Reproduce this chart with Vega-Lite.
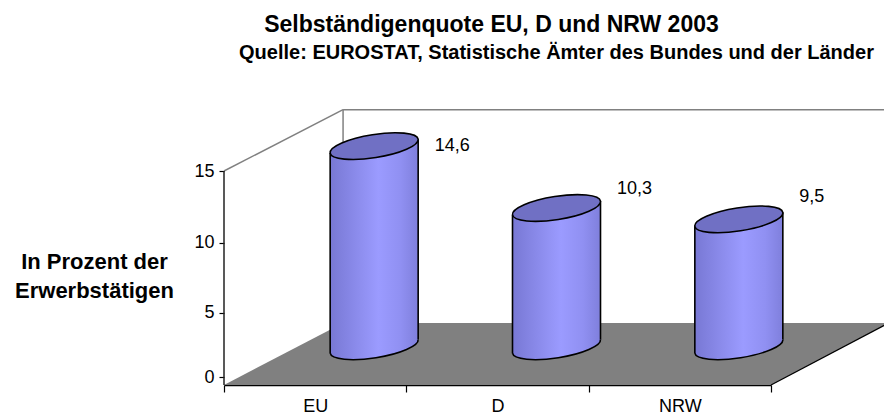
{
  "$schema": "https://vega.github.io/schema/vega-lite/v6.json",
  "width": 660,
  "height": 285,
  "autosize": {"type": "none"},
  "padding": {"left": 224, "top": 100, "right": 0, "bottom": 34},
  "background": "white",
  "config": {
    "view": {"stroke": null},
    "font": "Liberation Sans",
    "locale": {"number": {"decimal": ",", "thousands": ".", "grouping": [3], "currency": ["", " €"]}}
  },
  "datasets": {
    "main": [
      {"cat": "EU", "value": 14.6},
      {"cat": "D", "value": 10.3},
      {"cat": "NRW", "value": 9.5}
    ],
    "floor": [
      {"x": 0, "y": -0.701, "y2": -0.701},
      {"x": 0.653, "y": 4.246, "y2": -0.701},
      {"x": 3, "y": 4.246, "y2": -0.701},
      {"x": 3.647, "y": 4.246, "y2": 4.246}
    ],
    "walls": [
      {"x": 0, "y": 15, "x2": 0.653, "y2": 19.18},
      {"x": 0.653, "y": 19.18, "x2": 3.7, "y2": 19.18},
      {"x": 0.653, "y": 19.18, "x2": 0.653, "y2": 4.246}
    ],
    "edges": [
      {"x": 3, "y": -0.701, "x2": 3.647, "y2": 4.246}
    ]
  },
  "layer": [
    {
      "layer": [
        {
          "data": {"name": "floor"},
          "mark": {"type": "area", "color": "#808080", "opacity": 1},
          "encoding": {
            "x": {"field": "x", "type": "quantitative",
              "scale": {"domain": [0, 3], "range": [0, 547], "nice": false, "zero": false},
              "axis": {"orient": "top", "domain": false, "ticks": false, "labels": false, "grid": false,
                "title": "Selbständigenquote EU, D und NRW 2003", "titleFontSize": 23, "titleFontWeight": "bold",
                "titleColor": "black", "titleFont": "Liberation Sans", "titleX": 267, "titleY": -69,
                "titleAlign": "center", "titleBaseline": "alphabetic", "titleAngle": 0}},
            "y": {"field": "y", "type": "quantitative", "stack": null,
              "scale": {"type": "pow", "exponent": 1.06, "domain": [0, 15], "range": [277, 71], "nice": false, "zero": false},
              "axis": null},
            "y2": {"field": "y2"}
          }
        },
        {
          "data": {"name": "walls"},
          "mark": {"type": "rule", "color": "#808080", "strokeWidth": 1.5},
          "encoding": {
            "x": {"field": "x", "type": "quantitative"},
            "y": {"field": "y", "type": "quantitative"},
            "x2": {"field": "x2"},
            "y2": {"field": "y2"}
          }
        },
        {
          "data": {"name": "edges"},
          "mark": {"type": "rule", "color": "black", "strokeWidth": 1.3},
          "encoding": {
            "x": {"field": "x", "type": "quantitative"},
            "y": {"field": "y", "type": "quantitative"},
            "x2": {"field": "x2"},
            "y2": {"field": "y2"}
          }
        },
        {
          "data": {"values": [{"lo": -0.701, "hi": 15}]},
          "mark": {"type": "rule", "color": "#222222", "strokeWidth": 1.5},
          "encoding": {
            "x": {"datum": 0, "type": "quantitative"},
            "y": {"field": "lo", "type": "quantitative"},
            "y2": {"field": "hi"}
          }
        }
      ]
    },
    {
      "data": {"name": "main"},
      "encoding": {
        "x": {"field": "cat", "type": "nominal", "sort": null,
          "scale": {"domain": ["EU", "D", "NRW"], "range": [0, 547], "paddingInner": 0, "paddingOuter": 0},
          "axis": {"orient": "bottom", "tickBand": "extent", "domainColor": "black", "domainWidth": 1.3,
            "tickColor": "black", "tickSize": 7, "tickWidth": 1.2, "labelFontSize": 18, "labelColor": "black",
            "labelFont": "Liberation Sans", "labelPadding": 5, "labelAngle": 0, "title": null, "grid": false}}
      },
      "layer": [
        {
          "mark": {"type": "point", "shape": "M -0.988 -0.2 L -0.988 0.156 C -0.966 0.298 -0.505 0.343 0.041 0.257 C 0.587 0.171 1.01 -0.014 0.988 -0.156 L 0.988 -0.2 Z",
            "size": 7933, "filled": true, "opacity": 1, "strokeWidth": 0,
            "fill": {"gradient": "linear", "x1": 0, "y1": 0, "x2": 1, "y2": 0,
              "stops": [{"offset": 0, "color": "#7878d4"}, {"offset": 0.55, "color": "#9b9bff"}, {"offset": 0.8, "color": "#9090f2"}, {"offset": 1, "color": "#7f7fdc"}]},
            "xOffset": 59, "yOffset": -30.7},
          "encoding": {
            "y": {"datum": 0, "type": "quantitative",
              "scale": {"type": "pow", "exponent": 1.06, "domain": [0, 15], "range": [277, 71], "nice": false, "zero": false},
              "axis": {"orient": "left", "values": [0, 5, 10, 15], "format": "d", "domain": false, "grid": false,
                "tickSize": 5, "tickColor": "black", "tickWidth": 1.2, "labelFontSize": 18, "labelColor": "black",
                "labelFont": "Liberation Sans", "labelPadding": 5,
                "title": ["In Prozent der", "Erwerbstätigen"], "titleFontSize": 22, "titleFontWeight": "bold",
                "titleColor": "black", "titleFont": "Liberation Sans", "titleAngle": 0, "titleX": -130, "titleY": 161,
                "titleAlign": "center", "titleBaseline": "middle", "titleLineHeight": 29}}
          }
        },
        {
          "mark": {"type": "bar", "width": 88, "stroke": null,
            "fill": {"gradient": "linear", "x1": 0, "y1": 0, "x2": 1, "y2": 0,
              "stops": [{"offset": 0, "color": "#7878d4"}, {"offset": 0.55, "color": "#9b9bff"}, {"offset": 0.8, "color": "#9090f2"}, {"offset": 1, "color": "#7f7fdc"}]},
            "xOffset": 59, "yOffset": -23.7, "y2Offset": -37.7},
          "encoding": {
            "y": {"field": "value", "type": "quantitative"},
            "y2": {"datum": 0}
          }
        },
        {
          "mark": {"type": "point", "shape": "M -0.988 0.156 L 0.988 -0.156 L 0.988 0.2 L -0.988 0.2 Z",
            "size": 7933, "filled": true, "opacity": 1, "strokeWidth": 0,
            "fill": {"gradient": "linear", "x1": 0, "y1": 0, "x2": 1, "y2": 0,
              "stops": [{"offset": 0, "color": "#7878d4"}, {"offset": 0.55, "color": "#9b9bff"}, {"offset": 0.8, "color": "#9090f2"}, {"offset": 1, "color": "#7f7fdc"}]},
            "xOffset": 59, "yOffset": -30.7},
          "encoding": {
            "y": {"field": "value", "type": "quantitative"}
          }
        },
        {
          "mark": {"type": "point", "shape": "M -0.988 0.156 C -0.966 0.298 -0.505 0.343 0.041 0.257 C 0.587 0.171 1.01 -0.014 0.988 -0.156",
            "size": 7933, "filled": false, "opacity": 1, "stroke": "black", "strokeWidth": 1.6,
            "xOffset": 59, "yOffset": -30.7},
          "encoding": {
            "y": {"datum": 0, "type": "quantitative"}
          }
        },
        {
          "mark": {"type": "rule", "color": "black", "strokeWidth": 1.6, "xOffset": 15, "yOffset": -23.75, "y2Offset": -23.75},
          "encoding": {
            "y": {"field": "value", "type": "quantitative"},
            "y2": {"datum": 0}
          }
        },
        {
          "mark": {"type": "rule", "color": "black", "strokeWidth": 1.6, "xOffset": 103, "yOffset": -37.65, "y2Offset": -37.65},
          "encoding": {
            "y": {"field": "value", "type": "quantitative"},
            "y2": {"datum": 0}
          }
        },
        {
          "mark": {"type": "point", "shape": "M 0.988 -0.156 C 1.01 -0.014 0.587 0.171 0.041 0.257 C -0.505 0.343 -0.966 0.298 -0.988 0.156 C -1.01 0.014 -0.587 -0.171 -0.041 -0.257 C 0.505 -0.343 0.966 -0.298 0.988 -0.156 Z",
            "size": 7933, "filled": true, "opacity": 1, "fill": "#7070c4", "stroke": "black", "strokeWidth": 1.6,
            "xOffset": 59, "yOffset": -30.7},
          "encoding": {
            "y": {"field": "value", "type": "quantitative"}
          }
        }
      ]
    },
    {
      "data": {"name": "main"},
      "mark": {"type": "text", "align": "left", "baseline": "middle", "fontSize": 18, "color": "black", "font": "Liberation Sans", "xOffset": 119.5},
      "encoding": {
        "x": {"field": "cat", "type": "nominal", "sort": null,
          "scale": {"domain": ["EU", "D", "NRW"], "range": [0, 547], "paddingInner": 0, "paddingOuter": 0},
          "axis": null},
        "y": {"field": "value", "type": "quantitative",
          "scale": {"domain": [0, 15], "range": [193.4, 41.9], "nice": false, "zero": false},
          "axis": {"orient": "right", "domain": false, "ticks": false, "labels": false, "grid": false,
            "title": "Quelle: EUROSTAT, Statistische Ämter des Bundes und der Länder", "titleFontSize": 20,
            "titleFontWeight": "bold", "titleColor": "black", "titleFont": "Liberation Sans", "titleAngle": 0,
            "titleX": -328, "titleY": -42, "titleAlign": "center", "titleBaseline": "alphabetic"}},
        "text": {"field": "value", "type": "quantitative", "format": ".1f"}
      }
    }
  ],
  "resolve": {"scale": {"x": "independent", "y": "independent"}}
}
